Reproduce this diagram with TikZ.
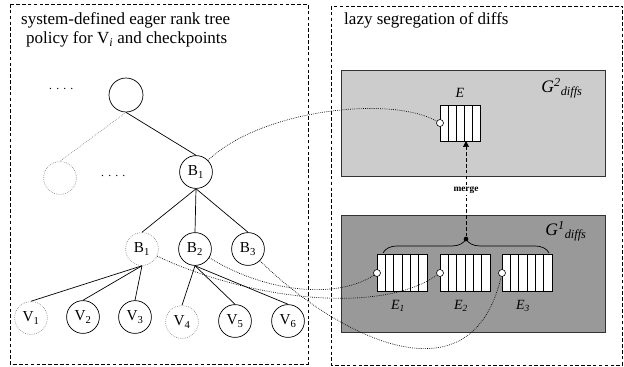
\documentclass[tikz,border=0pt]{standalone}
\usepackage{fontspec}
\setmainfont{Liberation Serif}
\usetikzlibrary{decorations.pathreplacing,arrows.meta}

\tikzset{
  vert/.style={circle,draw,line width=0.6pt,minimum size=28pt,inner sep=0pt,
    font=\fontsize{13}{13}\selectfont},
  ghost/.style={vert,draw=black!45,densely dotted},
  frame/.style={densely dashed,line width=0.5pt},
  link/.style={densely dotted,line width=0.6pt,black},
  cell/.style={draw,fill=white,line width=0.5pt},
  port/.style={circle,draw,fill=white,line width=0.5pt,inner sep=0pt,minimum size=6pt},
  title/.style={anchor=base west,inner sep=0pt,font=\fontsize{14.5}{14.5}\selectfont},
  lbl/.style={font=\fontsize{12}{12}\selectfont\itshape},
  glbl/.style={font=\fontsize{15}{15}\selectfont\itshape},
  ddots/.style={anchor=base west,inner sep=0pt,font=\fontsize{10}{10}\selectfont}
}

\begin{document}
\begin{tikzpicture}[x=0.03cm,y=-0.03cm]
\useasboundingbox (0,0) rectangle (624,366);

% the two panels
\draw[frame] (10,4) rectangle (308,364);
\draw[frame] (331,6) rectangle (622.5,365);

\node[title] (ltop) at (21,25) {system-defined eager rank tree};
\node[title] (lbot) at (26,44) {policy for V\textsubscript{\textit{i}} and checkpoints};
\node[title] (rtop) at (344,25) {lazy segregation of diffs};

% tree
\node[vert,minimum size=29pt] (root) at (126,95) {};
\node[ghost] (gh) at (60,178) {};
\node[ddots] (dots1) at (49,89) {.\hspace{3.5pt}.\hspace{3.5pt}.\hspace{3.5pt}.};
\node[ddots] (dots2) at (101,176) {.\hspace{3.5pt}.\hspace{3.5pt}.\hspace{3.5pt}.};
\node[vert] (B) at (196,172) {B\textsubscript{1}};

\node[ghost] (b1) at (142,249) {B\textsubscript{1}};
\node[vert] (b2) at (195,249) {B\textsubscript{2}};
\node[vert] (b3) at (248,249) {B\textsubscript{3}};

\node[ghost] (v1) at (31,318) {V\textsubscript{1}};
\node[vert] (v2) at (83,317) {V\textsubscript{2}};
\node[vert] (v3) at (135,317) {V\textsubscript{3}};
\node[ghost] (v4) at (182,322) {V\textsubscript{4}};
\node[vert] (v5) at (235,321) {V\textsubscript{5}};
\node[vert] (v6) at (288,321) {V\textsubscript{6}};

\draw[draw=black!45,densely dotted,line width=0.6pt] (root.south) -- (gh.north);
\draw[line width=0.6pt] (root.south) -- (B.north);
\foreach \c in {b1,b2,b3}
  \draw[line width=0.6pt] (B.south) -- (\c.north);
\foreach \c in {v1,v2,v3}
  \draw[line width=0.6pt] (b1.south) -- (\c.north);
\foreach \c in {v4,v5,v6}
  \draw[line width=0.6pt] (b2.south) -- (\c.north);

% diff groups
\draw[fill=gray!40,draw=black!80,line width=0.6pt] (341,70) rectangle (605,176);
\draw[fill=gray!80,draw=black!80,line width=0.6pt] (341,215) rectangle (605,332);
\node[glbl] (g2) at (562,88) {G\textsuperscript{2}\textsubscript{diffs}};
\node[glbl] (g1) at (566,231) {G\textsuperscript{1}\textsubscript{diffs}};

% merged diff
\foreach \i in {0,...,4}
  \draw[cell] ({440+8*\i},105) rectangle ++(8,36);
\node[port] (pE) at (440,123) {};
\node[lbl] (lE) at (460,93) {E};
\coordinate (Ebot) at (466,141);

% diffs to merge
\foreach \x/\n in {377/1,440/2,502/3} {
  \foreach \i in {0,...,5}
    \draw[cell] ({\x+8.33*\i},254) rectangle ++(8.33,37);
  \node[port] (p\n) at (\x,273) {};
  \node[lbl] (l\n) at (\x+21,306) {E\textsubscript{\n}};
}

\draw[decorate,decoration={brace,amplitude=12pt},line width=0.6pt] (383,253) -- (549,253);
\node[circle,fill,inner sep=0pt,minimum size=4pt] (tip) at (466,239) {};
\node[font=\bfseries\fontsize{8}{8}\selectfont,inner sep=1pt] (mrg) at (466,190) {merge};
\draw[densely dashed,line width=0.5pt] (tip) -- (mrg);
\draw[densely dashed,line width=0.5pt,-{Triangle[width=5pt,length=5pt]}] (mrg) -- (Ebot);

% links from tree to diffs
\draw[link] (B) .. controls (260,110) and (390,95) .. (pE);
\draw[link] (b2) .. controls (270,295) and (340,298) .. (p1);
\draw[link] (b1) .. controls (250,300) and (380,315) .. (p2);
\draw[link] (b3) .. controls (330,330) and (470,410) .. (p3);

\end{tikzpicture}
\end{document}
